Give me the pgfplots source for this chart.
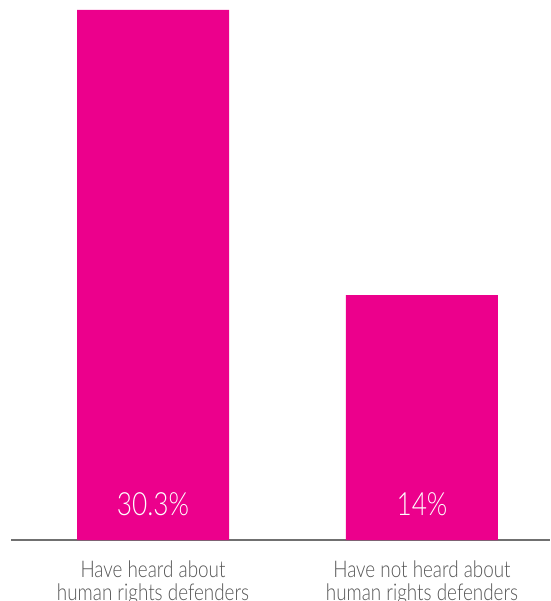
\documentclass[border=0pt]{standalone}
\usepackage{fontspec}
\IfFontExistsTF{Lato Light}{\setmainfont{Lato Light}[FakeStretch=0.82]}{\setmainfont{Lato}[FakeStretch=0.82]}
\usepackage{pgfplots}
\pgfplotsset{compat=1.18}
\definecolor{barmag}{RGB}{236,0,140}
\definecolor{labgray}{RGB}{85,85,85}
\definecolor{linegray}{RGB}{112,112,112}
\begin{document}
\begin{tikzpicture}
\path[use as bounding box] (-11pt,-61pt) rectangle (539pt,540pt);
\begin{axis}[
  at={(0,0)}, anchor=south west,
  scale only axis, width=539pt, height=530pt,
  xmin=-0.528, xmax=1.476, ymin=0, ymax=30.3,
  hide y axis,
  axis x line*=bottom,
  x axis line style={color=linegray, line width=1.6pt, -},
  xtick=\empty, ytick=\empty,
  clip=false,
]
\addplot[ybar, bar width=152pt, fill=barmag, draw=none] coordinates {(0,30.3) (1,14)};
\node[anchor=base, text=white, font=\fontsize{32}{36}\selectfont] at (axis cs:0,0) [yshift=24pt] {30.3\%};
\node[anchor=base, text=white, font=\fontsize{32}{36}\selectfont] at (axis cs:1,0) [yshift=24pt] {14\%};
\node[anchor=base, text=labgray, font=\fontsize{23}{26}\selectfont] at (axis cs:0,0) [yshift=-37pt] {Have heard about};
\node[anchor=base, text=labgray, font=\fontsize{23}{26}\selectfont] at (axis cs:0,0) [yshift=-60pt] {human rights defenders};
\node[anchor=base, text=labgray, font=\fontsize{23}{26}\selectfont] at (axis cs:1,0) [yshift=-37pt] {Have not heard about};
\node[anchor=base, text=labgray, font=\fontsize{23}{26}\selectfont] at (axis cs:1,0) [yshift=-60pt] {human rights defenders};
\end{axis}
\end{tikzpicture}
\end{document}
